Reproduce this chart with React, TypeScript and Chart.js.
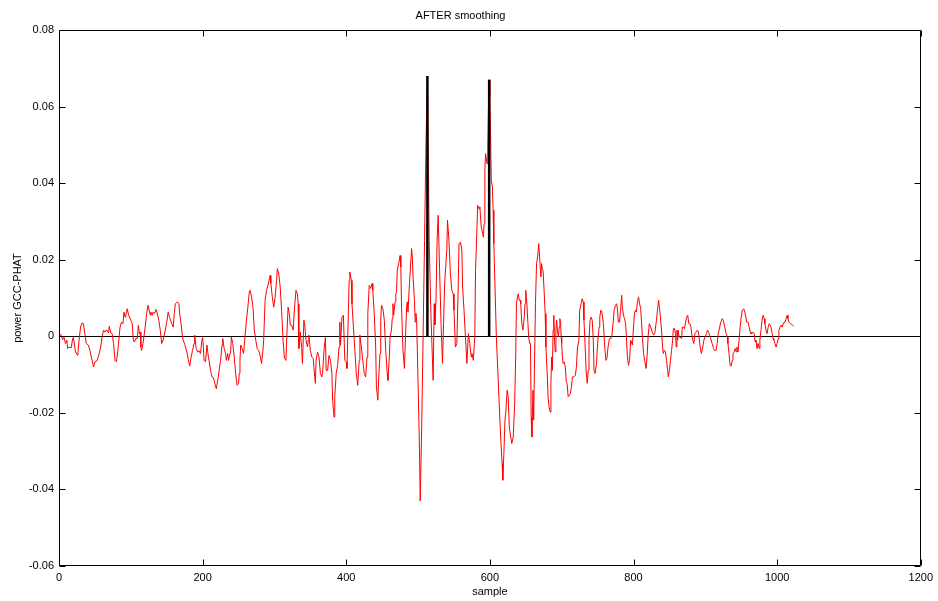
import { useEffect, useRef } from 'react';
import { Chart, registerables } from 'chart.js';

Chart.register(...registerables);

// sample index, smoothed GCC-PHAT power
const gccTrace: [number, number][] = [
  [1,0.0005],[3,0.0003],[5,-0.0009],[7,-0.0003],[9,-0.0019],[11,-0.001],[12,-0.0032],[14,-0.0028],[17,-0.003],[19,-0.0006],[20,-0.0003],[23,-0.0041],[26,-0.005],[28,-0.001],[30,0.0024],[32,0.0035],[34,0.0033],[36,0.0007],[38,-0.0019],[41,-0.0023],[43,-0.0037],[45,-0.0054],[48,-0.008],[50,-0.0067],[53,-0.0064],[56,-0.0045],[58,-0.0028],[60,-0.0002],[62,0.0016],[64,0.0011],[66,0.0017],[69,0.0009],[70,0.0026],[72,0.0009],[74,0.0007],[76,-0.0019],[78,-0.0063],[80,-0.0067],[82,-0.0037],[85,0.0024],[87,0.0037],[89,0.0033],
  [90.5,0.0063],[92,0.005],[93,0.0055],[95,0.0072],[97,0.0055],[100,0.0042],[102,0.0033],[103.5,-0.001],[105,-0.0015],[107,-0.0006],[109,-0.0006],[110.5,0.0029],[112,0.0007],[113,0.0011],[114,-0.0028],[115,-0.0037],[117,-0.0019],[120,0.0024],[122,0.0059],[124,0.0081],[127,0.0055],[128,0.0063],[130,0.0055],[131,0.0063],[133,0.0059],[135,0.007],[137,0.0059],[139,0.0042],[141,0.0016],[143,-0.0019],[145,-0.001],[148,0.0016],[150,0.0037],[152,0.0063],[154,0.005],[157,0.0033],[159,0.0024],[160.5,0.0059],[162,0.0085],[165,0.009],[167,0.0085],[168,0.0059],[170,0.0033],[172,-0.0002],[173,-0.001],[175,-0.0021],[178,-0.0041],[180,-0.006],[182,-0.0078],
  [184,-0.0054],[186,-0.0037],[188,-0.0019],[189,0.0003],[191,-0.0032],[193,-0.0041],[195,-0.0038],[197,-0.0045],[199,-0.001],[200,-0.0003],[201,-0.0028],[202,-0.0063],[204,-0.0067],[206,-0.0023],[208,-0.0054],[209,-0.0063],[211,-0.0089],[213,-0.0106],[215,-0.0108],[217,-0.0123],[219,-0.0137],[221,-0.0115],[223,-0.0089],[225,-0.0063],[227,-0.0023],[228,-0.0006],[230,-0.0032],[232,-0.0045],[233,-0.0063],[235,-0.0045],[236,-0.0063],[237,-0.0054],[239,-0.0041],[240,-0.0002],[242,-0.0019],[244,-0.0054],[246,-0.0097],[248,-0.0128],[250,-0.0123],[251,-0.0097],[252,-0.0063],[253,-0.0023],[255,-0.0032],[257,-0.0045],[259,-0.0002],[261,0.0042],[263,0.0076],[265,0.0116],[266,0.012],[268,0.0105],[270,0.0078],
  [272,0.0016],[274,-0.001],[276,-0.0032],[278,-0.0037],[280,-0.005],[282,-0.0071],[284,-0.0037],[285,-0.001],[287,0.0094],[289,0.012],[291,0.0133],[294,0.0159],[295,0.0138],[297,0.0103],[299,0.0076],[301,0.0103],[303,0.0146],[304,0.0177],[306,0.0164],[308,0.0129],[310,0.0068],[312,-0.001],[314,-0.0058],[316,-0.0063],[317,-0.001],[319,0.0076],[321,0.0055],[322,0.0029],[324,0.0029],[326,0.0016],[328,0.0076],[330,0.012],[332,0.0111],[333,0.0085],[334,-0.0032],[336,0.0011],[338,-0.0032],[339,-0.0071],[341,0.0042],[342,0.0033],[344,-0.001],[346,-0.0028],[347,-0.001],[348,0.0003],[350,-0.0037],[352,-0.0054],[354,-0.0058],[356,-0.0105],[357,-0.0123],
  [358,-0.0063],[360,-0.0041],[362,-0.0054],[364,-0.0097],[366,-0.0106],[367,-0.0097],[369,-0.0037],[371,-0.0003],[372,-0.0089],[374,-0.0089],[376,-0.005],[378,-0.0063],[380,-0.0097],[381,-0.0167],[383,-0.0211],[384,-0.0158],[386,-0.0097],[388,-0.0076],[390,-0.0028],[391,0.0037],[392,-0.0023],[394,0.005],[396,0.0055],[398,-0.0063],[400,-0.0067],[401,-0.0084],[403,0.0068],[404,0.0146],[405,0.0168],[407,0.0146],[408,0.0085],[410,0.0024],[412,-0.0037],[414,-0.0097],[416,-0.0128],[418,-0.0063],[419,0.0003],[421,-0.0028],[423,-0.0063],[425,-0.0097],[427,-0.0106],[429,-0.0054],[430,0.0059],[432,0.0133],[434,0.0125],[436,0.0138],[437,0.012],[439,0.0059],[441,-0.0028],[442,-0.0132],[444,-0.0167],[445,-0.0115],[447,-0.0045],[448,0.0042],
  [449,0.0081],[451,0.0072],[453,0.0042],[455,-0.0037],[457,-0.0097],[458,-0.0115],[460,-0.0054],[461,-0.0002],[463,0.0016],[464,0.0046],[465,0.0085],[466,0.0055],[468,0.009],[469,0.0111],[470,0.0116],[471,0.0172],[473,0.019],[475,0.0211],[476,0.0181],[477,0.0076],[479,-0.0037],[481,-0.0084],[482,-0.0028],[484,0.0076],[485,0.009],[486,0.0063],[488,0.0138],[490,0.0198],[491,0.0229],[492,0.0207],[493,0.0155],[495,0.0094],[496,0.0037],[497,0.006],[498,0.004],[500,-0.012],[502,-0.03],[503,-0.043],[505,-0.024],[507,0.0],[509,0.025],[511,0.05],[513,0.068],[515.5,0.025],[518,0.005],[521,-0.0115],[522.5,0.0085],[523.5,0.003],[525,0.01],[526.5,0.025],[528,0.0316],[530,0.0172],[532,0.0033],[534,-0.0071],[535.5,0.0033],[537,0.0138],[540,0.0225],[541,0.0303],[543,0.0251],[545,0.0164],[547,0.012],[549,0.0111],[550,0.0068],[552,-0.0028],[554,-0.0019],[556,0.0138],[557,0.0242],[559,0.0246],[561,0.0225],[562,0.0129],[564,0.0068],[566,-0.0002],[568,-0.0071],[570,0.0007],[572,-0.0019],[574,-0.0054],[575,-0.0045],[577,-0.0063],[579,-0.0002],[580,0.0172],[581,0.0225],[583,0.0342],[585,0.0333],[586,0.0338],[588,0.0285],[590,0.0268],[591,0.0259],[592,0.0294],[593,0.0433],[594,0.0477],[596,0.0451],[597,0.0494],[598,0.06],[599,0.067],[600,0.0625],
  [602,0.0407],[603.5,0.039],[604.5,0.0329],[605.5,0.0242],[607,0.0138],[608,0.0068],[609,-0.0002],[611,-0.0089],[613,-0.0176],[615,-0.0263],[617,-0.0332],[618,-0.0376],[619.5,-0.0306],[621,-0.0219],[622,-0.0202],[624,-0.0141],[625.5,-0.0158],[627,-0.0237],[629,-0.0263],[630.5,-0.028],[632.5,-0.0263],[634.5,-0.0176],[636,-0.0045],[637,0.0085],[638.5,0.0103],[639.5,0.0111],[641,0.0094],[642,0.0094],[643,0.0085],[644.5,0.0033],[646,0.0016],[647.5,0.0042],[649,0.0085],[650,0.012],[651.5,0.0085],[653,0.0033],[654,-0.0002],[655.5,-0.0019],[656.5,-0.0019],[657.5,-0.0211],[658.5,-0.0263],[660,-0.0141],[661,-0.0219],[662,-0.0089],[663.5,0.0085],[665,0.019],[666.5,0.0207],[668,0.0242],[669.5,0.02],
  [671,0.0155],[672,0.019],[673,0.0177],[674,0.0172],[675.5,0.012],[677,0.0059],[678,-0.0028],[680,-0.0106],[681,-0.0158],[682.5,-0.0185],[684,-0.0198],[685,-0.0123],[686,-0.0054],[687,-0.0089],[688,0.0016],[689,0.0055],[690,-0.001],[691,-0.0041],[692,0.0016],[693,0.0042],[694,0.0016],[695.5,-0.0002],[696.5,0.0024],[697.5,0.0046],[698.5,0.0033],[699.3,-0.0002],[700,-0.0019],[701,-0.0054],[702,-0.0071],[703.5,-0.0067],[705,-0.008],[706.5,-0.0119],[707.5,-0.0123],[709,-0.0158],[710.5,-0.0154],[712,-0.015],[713.5,-0.0132],[715,-0.0106],[717,-0.0106],[719,-0.0102],[720.5,-0.008],[722,-0.0028],[724,-0.001],[725,0.0068],[727,0.0085],[728.5,0.0098],[730,0.009],[731,0.0042],[732.5,-0.0019],[734,-0.0089],[735.5,-0.0123],[737,-0.0089],[738,-0.001],[739.5,0.0042],[741,0.005],[742.5,0.0042],[744,-0.001],[745,-0.0089],[746.5,-0.0097],[748.5,-0.0071],[750,-0.0019],[752,0.0024],[753,0.005],
  [754.5,0.0068],[756,0.0063],[758,0.0033],[760,-0.0028],[761.5,-0.0063],[763,-0.0058],[764.5,-0.0028],[766.5,-0.0006],[768.5,-0.0006],[770,0.0003],[771.5,0.0033],[773,0.0068],[775,0.0081],[776.5,0.0085],[777.5,0.0072],[779,0.0037],[780.5,0.0037],[782,0.0068],[783.5,0.0107],[784.5,0.0076],[786,0.0055],[787.5,0.0046],[789,0.0033],[790,0.0003],[791.5,-0.0054],[793,-0.0076],[794.5,-0.0063],[796,-0.001],[797,-0.0015],[798.5,-0.0023],[800,0.0024],[801.5,0.0063],[803,0.0068],[804,0.0063],[805.5,0.009],[807,0.0103],[808.5,0.0085],[810,0.0072],[811,0.0042],[812.5,-0.0006],[814,-0.0045],[815.5,-0.0063],[817.5,-0.0084],[819,-0.005],[820.5,0.0003],[822,0.0033],[824,0.0024],[826,0.0011],[828,0.0003],[829.5,0.0007],[832,0.0042],[833.5,0.0072],[835,0.0094],
  [836,0.0076],[837.5,0.005],[839,0.0016],[840.5,-0.0028],[841.5,-0.0045],[843,-0.0037],[844.5,-0.0041],[846,-0.0063],[847.5,-0.0089],[848.5,-0.0106],[850,-0.0089],[851.5,-0.0063],[853,-0.0037],[854.5,-0.001],[855.5,0.002],[857,0.002],[858.5,0.0007],[859.5,-0.0028],[860.5,0.0016],[861.5,-0.001],[862,0.0016],[863.5,-0.0002],[865,-0.0002],[867,-0.0006],[868,0.0024],[869.5,0.0024],[871,0.002],[872.5,0.0037],[874,0.005],[875.5,0.0055],[877,0.0033],[878.5,0.0033],[880,0.0024],[881,0.0007],[882.5,-0.001],[884,-0.0019],[885.5,0.0007],[887,0.0011],[889,0.0016],[890.5,0.0011],[892,-0.0015],[893.5,-0.0037],[894.5,-0.0045],[896.5,-0.0028],[898,-0.001],[899.5,-0.0002],[901.5,0.0007],[903,0.0016],[904.5,0.0011],[906,0.0003],[907.5,-0.0006],[909.5,-0.0019],[911.5,-0.0032],[913,-0.0037],[915,-0.0037],
  [916.5,-0.0019],[918,0.0007],[920,0.0024],[921.5,0.0037],[923.5,0.0046],[925,0.0042],[927,0.0024],[929,0.0007],[930.5,-0.0002],[931.5,-0.0019],[933,-0.0045],[934.5,-0.0076],[936,-0.0078],[937.5,-0.0063],[938.5,-0.0045],[940,-0.0041],[941.5,-0.0032],[943,-0.0041],[944,-0.0028],[945.5,-0.0041],[947,-0.001],[948.5,0.0024],[950,0.005],[951.5,0.0068],[953.5,0.0072],[955,0.0063],[956.5,0.005],[957.5,0.0037],[959.5,0.0037],[961,0.0024],[962.5,0.0011],[963.5,0.0007],[965,0.0007],[966.5,0.0011],[968,0.0007],[969.5,-0.0015],[970.5,-0.001],[972,-0.0032],[973.5,-0.0019],[975,-0.0032],[976,-0.001],[977.5,0.0016],[979,0.0042],[980.5,0.0055],[982,0.0046],[983,0.0033],[984.5,0.0016],[986,0.0007],[987.5,0.0024],[989,0.0033],[990,0.0033],[991.5,0.0024],[993,0.0007],[994.5,-0.0006],[995.5,-0.001],[997,-0.0019],[998.5,-0.0028],[1000,-0.0019],[1001.5,-0.0006],[1002.5,0.0016],[1004,0.0024],[1005.5,0.0029],[1007,0.0024],[1008.5,0.0033],[1009.5,0.0037],[1011,0.0037],[1012.5,0.0046],[1014,0.0055],[1015,0.0046],[1016.5,0.0037],[1018.5,0.0033],[1020.5,0.0031],[1023,0.0026],
];

// detected peaks (black stems)
const stemSamples = [513, 599];
const stemPeaks = [0.068, 0.067];

const xTicks = [0, 200, 400, 600, 800, 1000, 1200];
const yTicks = [-0.06, -0.04, -0.02, 0, 0.02, 0.04, 0.06, 0.08];

const FONT = "'Liberation Sans', Arial, Helvetica, sans-serif";

const boxPlugin = {
  id: 'matlabBox',
  afterDraw(chart: any) {
    const { ctx, chartArea: a, scales } = chart;
    const L = 6;
    ctx.save();
    ctx.strokeStyle = '#000';
    ctx.lineWidth = 1;
    ctx.beginPath();
    const l = Math.round(a.left) + 0.5;
    const r = Math.round(a.right) - 0.5;
    const t = Math.round(a.top) + 0.5;
    const b = Math.round(a.bottom) - 0.5;
    ctx.rect(l, t, r - l, b - t);
    for (const v of xTicks) {
      const px = Math.round(scales.x.getPixelForValue(v)) + 0.5;
      ctx.moveTo(px, b); ctx.lineTo(px, b - L);
      ctx.moveTo(px, t); ctx.lineTo(px, t + L);
    }
    for (const v of yTicks) {
      const py = Math.round(scales.y.getPixelForValue(v)) + 0.5;
      ctx.moveTo(l, py); ctx.lineTo(l + L, py);
      ctx.moveTo(r, py); ctx.lineTo(r - L, py);
    }
    ctx.stroke();
    ctx.restore();
  },
};

export default function App() {
  const ref = useRef<HTMLCanvasElement>(null);
  useEffect(() => {
    if (!ref.current) return;
    const stemSets = stemSamples.map((s, i) => ({
      type: 'line' as const,
      label: 'peak ' + (i + 1),
      data: [{ x: s, y: 0 }, { x: s, y: stemPeaks[i] }],
      borderColor: '#000',
      borderWidth: 2.5,
      pointRadius: 0,
      order: 0,
    }));
    const chart = new Chart(ref.current, {
      type: 'line',
      data: {
        datasets: [
          ...stemSets,
          {
            label: 'GCC-PHAT',
            data: gccTrace.map(([x, y]) => ({ x, y })),
            borderColor: '#ff0000',
            borderWidth: 1,
            pointRadius: 0,
            tension: 0,
            order: 1,
          },
        ],
      },
      options: {
        animation: false,
        responsive: false,
        events: [],
        layout: { padding: { left: 0, right: 17, top: 0, bottom: 0 } },
        plugins: {
          legend: { display: false },
          tooltip: { enabled: false },
          title: {
            display: true,
            text: 'AFTER smoothing',
            color: '#000',
            font: { family: FONT, size: 11, weight: 'normal' },
            padding: { top: 9, bottom: 7.8 },
          },
        },
        scales: {
          x: {
            type: 'linear',
            min: 0,
            max: 1200,
            afterBuildTicks: (scale: any) => { scale.ticks = xTicks.map((v) => ({ value: v })); },
            afterFit: (scale: any) => { scale.height = 35; },
            grid: { display: false, drawTicks: false },
            border: { display: false },
            ticks: {
              color: '#000',
              padding: 5,
              maxRotation: 0,
              autoSkip: false,
              font: { family: FONT, size: 11 },
              callback: (v: any) => String(v),
            },
            title: {
              display: true,
              text: 'sample',
              color: '#000',
              font: { family: FONT, size: 11 },
              padding: { top: 0, bottom: 2.4 },
            },
          },
          y: {
            type: 'linear',
            min: -0.06,
            max: 0.08,
            afterBuildTicks: (scale: any) => { scale.ticks = yTicks.map((v) => ({ value: v })); },
            afterFit: (scale: any) => { scale.width = 59; },
            grid: {
              drawTicks: false,
              color: (c: any) => (c.tick && Math.abs(c.tick.value) < 1e-9 ? '#000' : 'rgba(0,0,0,0)'),
              lineWidth: 1,
            },
            border: { display: false },
            ticks: {
              color: '#000',
              padding: 5,
              autoSkip: false,
              font: { family: FONT, size: 11 },
              callback: (v: any) => {
                const r = Math.round(Number(v) * 100) / 100;
                return r === 0 ? '0' : r.toFixed(2);
              },
            },
            title: {
              display: true,
              text: 'power GCC-PHAT',
              color: '#000',
              font: { family: FONT, size: 11 },
              padding: { top: 11.4, bottom: 0 },
            },
          },
        },
      },
      plugins: [boxPlugin],
    });
    return () => chart.destroy();
  }, []);
  return (
    <div style={{ position: 'fixed', left: 0, top: 0, width: 938, height: 601, background: '#fff' }}>
      <canvas ref={ref} width={938} height={601} style={{ width: 938, height: 601, display: 'block' }} />
    </div>
  );
}
